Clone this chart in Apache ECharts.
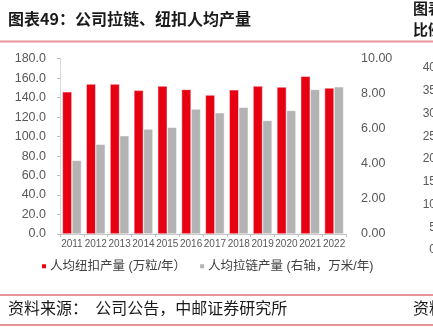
<!DOCTYPE html>
<html>
<head>
<meta charset="utf-8">
<script src="https://cdn.jsdelivr.net/npm/echarts@6/dist/echarts.min.js"></script>
<style>
html,body{margin:0;padding:0;background:#fff;}
#c{width:433px;height:330px;}
</style>
</head>
<body>
<div id="c"></div>
<script>
var categories = ['2011','2012','2013','2014','2015','2016','2017','2018','2019','2020','2021','2022'];
var buttonOutput = [146, 154, 154, 147.5, 152, 148.5, 142.7, 148, 152, 151, 162, 150];
var zipperOutput = [4.2, 5.12, 5.61, 5.99, 6.09, 7.13, 6.92, 7.23, 6.48, 7.05, 8.25, 8.4];
var leftTicks = {min: 0, max: 180, interval: 20};
var rightTicks = {min: 0, max: 10, interval: 2};
var neighbourTicks = ['40','35','30','25','20','15','10','5','0'];

var FONT = '"Liberation Sans", Arial, "Noto Sans CJK SC", sans-serif';
var CJK = '"Noto Sans CJK SC", sans-serif';
var RED = '#e60012';
var GRAY = '#b3b3b3';
var LABEL = '#595959';

var chart = echarts.init(document.getElementById('c'), null, {renderer: 'canvas'});

var graphics = [
  {type: 'text', left: 8, top: 11, style: {text: '图表49：公司拉链、纽扣人均产量', font: 'bold 16px ' + CJK, fill: '#1a1a1a'}},
  {type: 'line', shape: {x1: 0, y1: 41.5, x2: 433, y2: 41.5}, style: {stroke: '#e8939a', lineWidth: 2}},
  {type: 'text', left: 413, top: 1, style: {text: '图表', font: 'bold 15px ' + CJK, fill: '#1a1a1a'}},
  {type: 'text', left: 413, top: 22, style: {text: '比例', font: 'bold 15px ' + CJK, fill: '#1a1a1a'}},
  {type: 'line', shape: {x1: 0, y1: 295, x2: 433, y2: 295}, style: {stroke: '#d42a2a', lineWidth: 1.2}},
  {type: 'text', left: 8, top: 300, style: {text: '资料来源：  公司公告，中邮证券研究所', font: '16px ' + CJK, fill: '#1a1a1a'}},
  {type: 'text', left: 413, top: 300, style: {text: '资料', font: '16px ' + CJK, fill: '#1a1a1a'}},
  {type: 'line', shape: {x1: 0, y1: 325, x2: 433, y2: 325}, style: {stroke: '#d42a2a', lineWidth: 1.2}}
];
neighbourTicks.forEach(function (t, i) {
  graphics.push({type: 'text', x: 436, y: 68 + i * 22.75, style: {text: t, font: '12px ' + FONT, fill: LABEL, align: 'right', verticalAlign: 'middle'}});
});

chart.setOption({
  animation: false,
  backgroundColor: '#fff',
  grid: {left: 60, right: 87, top: 58.7, bottom: 96},
  legend: {
    left: 35, top: 255,
    itemWidth: 6, itemHeight: 6, itemGap: 12,
    icon: 'rect',
    textStyle: {fontSize: 12.5, color: '#404040', fontFamily: FONT, padding: [0, 0, 0, -2]},
    data: ['人均纽扣产量 (万粒/年）', '人均拉链产量 (右轴，万米/年)']
  },
  xAxis: {
    type: 'category',
    data: categories,
    axisLine: {lineStyle: {color: '#bfbfbf'}},
    axisTick: {show: true, length: 3, lineStyle: {color: '#bfbfbf'}},
    axisLabel: {color: LABEL, fontSize: 10, fontFamily: FONT, margin: 5, interval: 0}
  },
  yAxis: [{
    type: 'value', min: leftTicks.min, max: leftTicks.max, interval: leftTicks.interval,
    axisLine: {show: true, lineStyle: {color: '#d9d9d9'}},
    axisTick: {show: true, length: 3, lineStyle: {color: '#bfbfbf'}},
    splitLine: {show: false},
    axisLabel: {color: LABEL, fontSize: 12.5, fontFamily: FONT, margin: 14, formatter: function (v) { return v.toFixed(1); }}
  }, {
    type: 'value', min: rightTicks.min, max: rightTicks.max, interval: rightTicks.interval,
    axisLine: {show: false},
    axisTick: {show: false},
    splitLine: {show: false},
    axisLabel: {color: LABEL, fontSize: 12.5, fontFamily: FONT, margin: 15, formatter: function (v) { return v.toFixed(2); }}
  }],
  series: [{
    name: '人均纽扣产量 (万粒/年）', type: 'bar', data: buttonOutput, yAxisIndex: 0,
    barGap: '0%', barCategoryGap: '20%',
    itemStyle: {color: RED, borderColor: '#fff', borderWidth: 0.5}
  }, {
    name: '人均拉链产量 (右轴，万米/年)', type: 'bar', data: zipperOutput, yAxisIndex: 1,
    barGap: '0%', barCategoryGap: '20%',
    itemStyle: {color: GRAY, borderColor: '#fff', borderWidth: 0.5}
  }],
  graphic: graphics
});
</script>
</body>
</html>
